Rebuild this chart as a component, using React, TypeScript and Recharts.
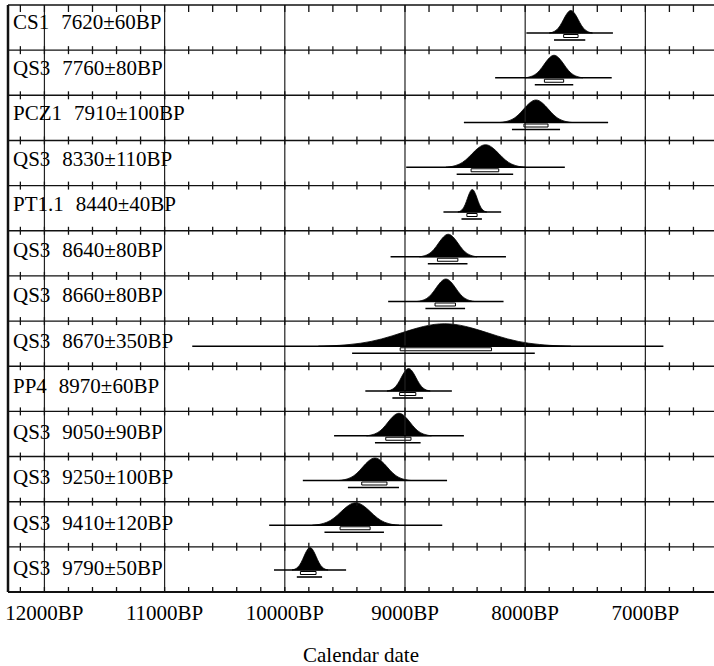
import React from "react";
import {
  ComposedChart,
  Area,
  XAxis,
  YAxis,
  ReferenceLine,
  ReferenceArea,
  Scatter,
} from "recharts";

// samples, top to bottom
const SAMPLES = ["CS1", "QS3", "PCZ1", "QS3", "PT1.1", "QS3", "QS3", "QS3", "PP4", "QS3", "QS3", "QS3", "QS3"];
const DATES = [7620, 7760, 7910, 8330, 8440, 8640, 8660, 8670, 8970, 9050, 9250, 9410, 9790];
const ERRORS = [60, 80, 100, 110, 40, 80, 80, 350, 60, 90, 100, 120, 50];

// extent of the thin base line under each curve (older, younger)
const BASE_LINES: [number, number][] = [
  [7990, 7270], [8250, 7280], [8510, 7310], [8990, 7670], [8680, 8200],
  [9120, 8160], [9140, 8180], [10770, 6850], [9330, 8610], [9590, 8510],
  [9850, 8650], [10130, 8690], [10090, 9490],
];

// 68% (hollow bracket) and 95% (line) ranges
const RANGE_68: [number, number][] = [
  [7680, 7560], [7840, 7680], [8010, 7810], [8450, 8220], [8485, 8400],
  [8730, 8560], [8750, 8580], [9040, 8280], [9045, 8910], [9160, 8950],
  [9360, 9150], [9540, 9290], [9870, 9740],
];
const RANGE_95: [number, number][] = [
  [7760, 7500], [7920, 7600], [8110, 7710], [8570, 8100], [8530, 8360],
  [8810, 8480], [8830, 8500], [9440, 7920], [9105, 8850], [9250, 8870],
  [9475, 9050], [9670, 9175], [9900, 9690],
];

// shape of the drawn curves, offset in sigma -> relative height
const PROFILE_OFFSET = [-3, -2.5, -2.25, -2, -1.75, -1.5, -1.25, -1, -0.75, -0.5, -0.25, 0, 0.25, 0.5, 0.75, 1, 1.25, 1.5, 1.75, 2, 2.25, 2.5, 3];
const PROFILE_HEIGHT = [0, 0.04, 0.08, 0.135, 0.215, 0.325, 0.46, 0.61, 0.755, 0.88, 0.97, 1, 0.97, 0.88, 0.755, 0.61, 0.46, 0.325, 0.215, 0.135, 0.08, 0.04, 0];

const MAJOR_TICKS = [12000, 11000, 10000, 9000, 8000, 7000];
const MINOR_TICKS = [
  12200, 12000, 11800, 11600, 11400, 11200, 11000, 10800, 10600, 10400,
  10200, 10000, 9800, 9600, 9400, 9200, 9000, 8800, 8600, 8400, 8200,
  8000, 7800, 7600, 7400, 7200, 7000, 6800, 6600,
];

const X_MIN = 6429;
const X_MAX = 12303;
const ROWS = SAMPLES.length;
const ROW_PX = 587 / ROWS;
const FONT = "'Liberation Serif', 'Times New Roman', serif";

const pxToVal = (px: number) => ROWS - (px - 5) / ROW_PX;
const baseVal = (i: number) => pxToVal(33 + 44.75 * i);
const PEAK = 22.5 / ROW_PX;

const curves = SAMPLES.map((_, i) =>
  PROFILE_OFFSET.map((o, j) => ({
    x: DATES[i] + o * ERRORS[i],
    y: [baseVal(i), baseVal(i) + PEAK * PROFILE_HEIGHT[j]],
  }))
);

// one point per row line and tick year; the shape draws the little tick
const tickMarks: { x: number; y: number; up: number; down: number }[] = [];
for (let k = 0; k <= ROWS; k++) {
  MINOR_TICKS.forEach((t) =>
    tickMarks.push({
      x: t,
      y: k,
      up: k === ROWS ? 0 : k === 0 ? 5 : 4,
      down: k === ROWS ? 7 : k === 0 ? 0 : 4,
    })
  );
}

const labels = SAMPLES.map((name, i) => ({
  x: X_MAX,
  y: pxToVal(29 + 45.5 * i),
  name,
  date: `${DATES[i]}±${ERRORS[i]}BP`,
}));

const RowLabel = (props: any) => {
  const { cx, cy, payload } = props;
  return (
    <text x={cx + 5} y={cy} fontSize={21} fontFamily={FONT} fill="#000">
      <tspan>{payload.name}</tspan>
      <tspan dx={12}>{payload.date}</tspan>
    </text>
  );
};

const TickMark = (props: any) => {
  const { cx, cy, payload } = props;
  return (
    <line
      x1={cx}
      x2={cx}
      y1={cy - payload.up}
      y2={cy + payload.down}
      stroke="#111"
      strokeWidth={1.3}
    />
  );
};

export default function App() {
  return (
    <div style={{ position: "absolute", left: 0, top: 0, background: "#fff" }}>
      <ComposedChart
        width={714}
        height={666}
        margin={{ top: 5, right: 0, bottom: 0, left: 8 }}
      >
        <XAxis
          type="number"
          dataKey="x"
          domain={[X_MIN, X_MAX]}
          reversed
          allowDataOverflow
          ticks={MAJOR_TICKS}
          interval={0}
          tickFormatter={(v: number) => `${v}BP`}
          tickLine={false}
          axisLine={false}
          tickSize={0}
          tickMargin={13}
          height={74}
          tick={{ fontSize: 21, fill: "#000", fontFamily: FONT }}
          label={{
            value: "Calendar date",
            position: "insideBottom",
            offset: 4,
            fontSize: 21,
            fill: "#000",
            fontFamily: FONT,
          }}
        />
        <YAxis type="number" dataKey="y" domain={[0, ROWS]} hide allowDataOverflow />

        {MAJOR_TICKS.map((t) => (
          <ReferenceLine key={`g${t}`} x={t} stroke="#222" strokeWidth={1.2} />
        ))}
        <ReferenceLine x={X_MAX} stroke="#111" strokeWidth={2.5} />
        {Array.from({ length: ROWS + 1 }, (_, k) => (
          <ReferenceLine
            key={`r${k}`}
            y={k}
            stroke="#111"
            strokeWidth={k === 0 ? 2.2 : 1.4}
          />
        ))}

        {curves.map((data, i) => (
          <Area
            key={`c${i}`}
            data={data}
            dataKey="y"
            type="monotone"
            stroke="#000"
            strokeWidth={0.8}
            fill="#000"
            fillOpacity={1}
            dot={false}
            activeDot={false}
            isAnimationActive={false}
          />
        ))}

        {BASE_LINES.map(([a, b], i) => (
          <ReferenceLine
            key={`b${i}`}
            segment={[{ x: a, y: baseVal(i) }, { x: b, y: baseVal(i) }]}
            stroke="#000"
            strokeWidth={1.6}
          />
        ))}
        {RANGE_68.map(([a, b], i) => (
          <ReferenceArea
            key={`s1${i}`}
            x1={a}
            x2={b}
            y1={baseVal(i) - 4.5 / ROW_PX}
            y2={baseVal(i) - 1.5 / ROW_PX}
            fill="#fff"
            fillOpacity={1}
            stroke="#000"
            strokeWidth={1}
          />
        ))}
        {RANGE_95.map(([a, b], i) => (
          <ReferenceLine
            key={`s2${i}`}
            segment={[{ x: a, y: baseVal(i) - 7 / ROW_PX }, { x: b, y: baseVal(i) - 7 / ROW_PX }]}
            stroke="#000"
            strokeWidth={1.6}
          />
        ))}

        <Scatter data={labels} dataKey="y" shape={RowLabel} isAnimationActive={false} />
        <Scatter
          data={tickMarks}
          dataKey="y"
          shape={(p: any) => <TickMark {...p} />}
          isAnimationActive={false}
        />
      </ComposedChart>
    </div>
  );
}
